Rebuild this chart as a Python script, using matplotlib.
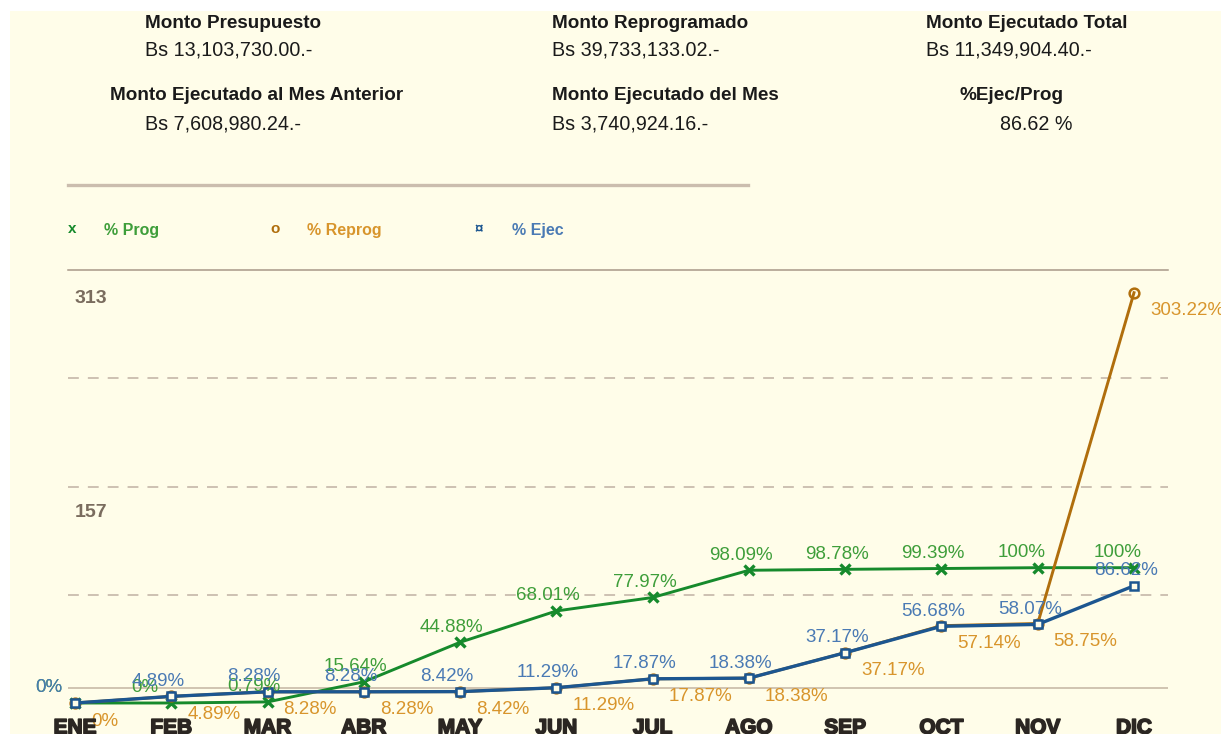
import matplotlib
matplotlib.use("Agg")
import matplotlib.pyplot as plt
import matplotlib.patheffects as pe
from matplotlib.lines import Line2D
from matplotlib.patches import Rectangle

# ---------------- data ----------------
months = ["ENE", "FEB", "MAR", "ABR", "MAY", "JUN", "JUL", "AGO", "SEP", "OCT", "NOV", "DIC"]
prog = [0, 0, 0.79, 15.64, 44.88, 68.01, 77.97, 98.09, 98.78, 99.39, 100, 100]
reprog = [0, 4.89, 8.28, 8.28, 8.42, 11.29, 17.87, 18.38, 37.17, 57.14, 58.75, 303.22]
ejec = [0, 4.89, 8.28, 8.28, 8.42, 11.29, 17.87, 18.38, 37.17, 56.68, 58.07, 86.62]
prog_labels = ["0%", "0%", "0.79%", "15.64%", "44.88%", "68.01%", "77.97%", "98.09%",
               "98.78%", "99.39%", "100%", "100%"]
reprog_labels = ["0%", "4.89%", "8.28%", "8.28%", "8.42%", "11.29%", "17.87%", "18.38%",
                 "37.17%", "57.14%", "58.75%", "303.22%"]
ejec_labels = ["0%", "4.89%", "8.28%", "8.28%", "8.42%", "11.29%", "17.87%", "18.38%",
               "37.17%", "56.68%", "58.07%", "86.62%"]
y_text_labels = ["313", "157"]
y_text_values = [299, 141]
grid_values = [80, 160, 240]
y_max = 320
base_line_value = 11

header_titles = ["Monto Presupuesto", "Monto Reprogramado", "Monto Ejecutado Total",
                 "Monto Ejecutado al Mes Anterior", "Monto Ejecutado del Mes", "%Ejec/Prog"]
header_values = ["Bs 13,103,730.00.-", "Bs 39,733,133.02.-", "Bs 11,349,904.40.-",
                 "Bs 7,608,980.24.-", "Bs 3,740,924.16.-", "86.62 %"]

# ---------------- style ----------------
W, H = 1221, 734
BG = "#FFFDE9"
GREEN, GREEN_T = "#168a2c", "#3e9e3a"
ORANGE, ORANGE_T = "#b06e0c", "#d8952c"
BLUE, BLUE_T = "#1c5690", "#4a7ab4"
FONT = "Liberation Sans"

plt.rcParams["font.family"] = [FONT, "DejaVu Sans"]

fig = plt.figure(figsize=(W / 100, H / 100), dpi=100)
fig.patch.set_facecolor("white")


def fx(x):
    return x / W


def fy(y):
    return 1 - y / H


fig.patches.append(Rectangle((fx(10), -0.01), 1.02 - fx(10), fy(11) + 0.01,
                             transform=fig.transFigure,
                             facecolor=BG, edgecolor="none", zorder=-10))

# header
title_pos = [(145, 23), (552, 23), (926, 23), (110, 96), (552, 96), (960, 96)]
value_pos = [(145, 50), (552, 50), (926, 50), (145, 124), (552, 124), (1000, 124)]
for t, (x, y) in zip(header_titles, title_pos):
    fig.text(fx(x), fy(y), t, fontsize=13.6, fontweight="bold", color="#1a1a1a",
             ha="left", va="center")
for v, (x, y) in zip(header_values, value_pos):
    fig.text(fx(x), fy(y), v, fontsize=14.2, color="#1a1a1a", ha="left", va="center")

fig.add_artist(Line2D([fx(68), fx(748)], [fy(185), fy(185)], transform=fig.transFigure,
                      color="#cbbdae", lw=2.4))

# legend
leg = [("x", "% Prog", GREEN_T, GREEN, 68, 104),
       ("o", "% Reprog", ORANGE_T, ORANGE, 270, 307),
       ("\u00a4", "% Ejec", BLUE_T, BLUE, 475, 512)]
for sym, lab, ct, cm, xs, xl in leg:
    fig.text(fx(xs), fy(229), sym, fontsize=11, fontweight="bold", color=cm,
             ha="left", va="center")
    fig.text(fx(xl), fy(231), lab, fontsize=11.5, fontweight="bold", color=ct,
             ha="left", va="center")

# axes
ax_left, ax_right, ax_top, ax_bottom = 68, 1168, 270, 703
ax = fig.add_axes([fx(ax_left), fy(ax_bottom), (ax_right - ax_left) / W,
                   (ax_bottom - ax_top) / H])
ax.set_zorder(5)
ax.patch.set_visible(False)
step = (1134 - 75) / 11
ax.set_xlim(-(75 - ax_left) / step, 11 + (ax_right - 1134) / step)
ax.set_ylim(0, y_max)
for s in ax.spines.values():
    s.set_visible(False)
ax.set_xticks([])
ax.set_yticks([])

for g in grid_values:
    ax.axhline(g, color="#c9bcae", lw=1.3, ls=(0, (6, 5)), zorder=1)
ax.axhline(y_max, color="#a89888", lw=1.1, zorder=1, clip_on=False)
ax.axhline(base_line_value, color="#c4b4a2", lw=1.1, zorder=1)

for lab, val in zip(y_text_labels, y_text_values):
    ax.text(0.0, val, lab, fontsize=14, fontweight="bold", color="#7a6c5e",
            ha="left", va="center")

x = list(range(len(months)))
ax.plot(x, prog, color=GREEN, lw=2.1, marker="x", ms=7, mew=2.4, zorder=3, clip_on=False)
ax.plot(x, reprog, color=ORANGE, lw=2.1, marker="o", ms=7, mew=1.8, mfc="none",
        zorder=4, clip_on=False)
ax.plot(x, ejec, color=BLUE, lw=2.4, marker="s", ms=6.2, mew=1.8, mfc=BG, zorder=5,
        clip_on=False)

for i in x:
    ax.annotate(prog_labels[i], (i, prog[i]), xytext=(-28.8, 10.8), textcoords="offset points",
                fontsize=13.5, color=GREEN_T, ha="left", va="center", zorder=6,
                annotation_clip=False)
    ax.annotate(ejec_labels[i], (i, ejec[i]), xytext=(-28.8, 10.8), textcoords="offset points",
                fontsize=13.5, color=BLUE_T, ha="left", va="center", zorder=7,
                annotation_clip=False)
    ax.annotate(reprog_labels[i], (i, reprog[i]), xytext=(11.5, -13), textcoords="offset points",
                fontsize=13.5, color=ORANGE_T, ha="left", va="center", zorder=6,
                annotation_clip=False)
    ax.annotate(months[i], (i, 0), xycoords=("data", "axes fraction"), xytext=(0, -18),
                textcoords="offset points", fontsize=15, fontweight="bold", color="#2b2622",
                ha="center", va="center", annotation_clip=False, zorder=8,
                path_effects=[pe.withStroke(linewidth=1.2, foreground="#2b2622")])

fig.savefig("out.png", dpi=100, facecolor=fig.get_facecolor())
